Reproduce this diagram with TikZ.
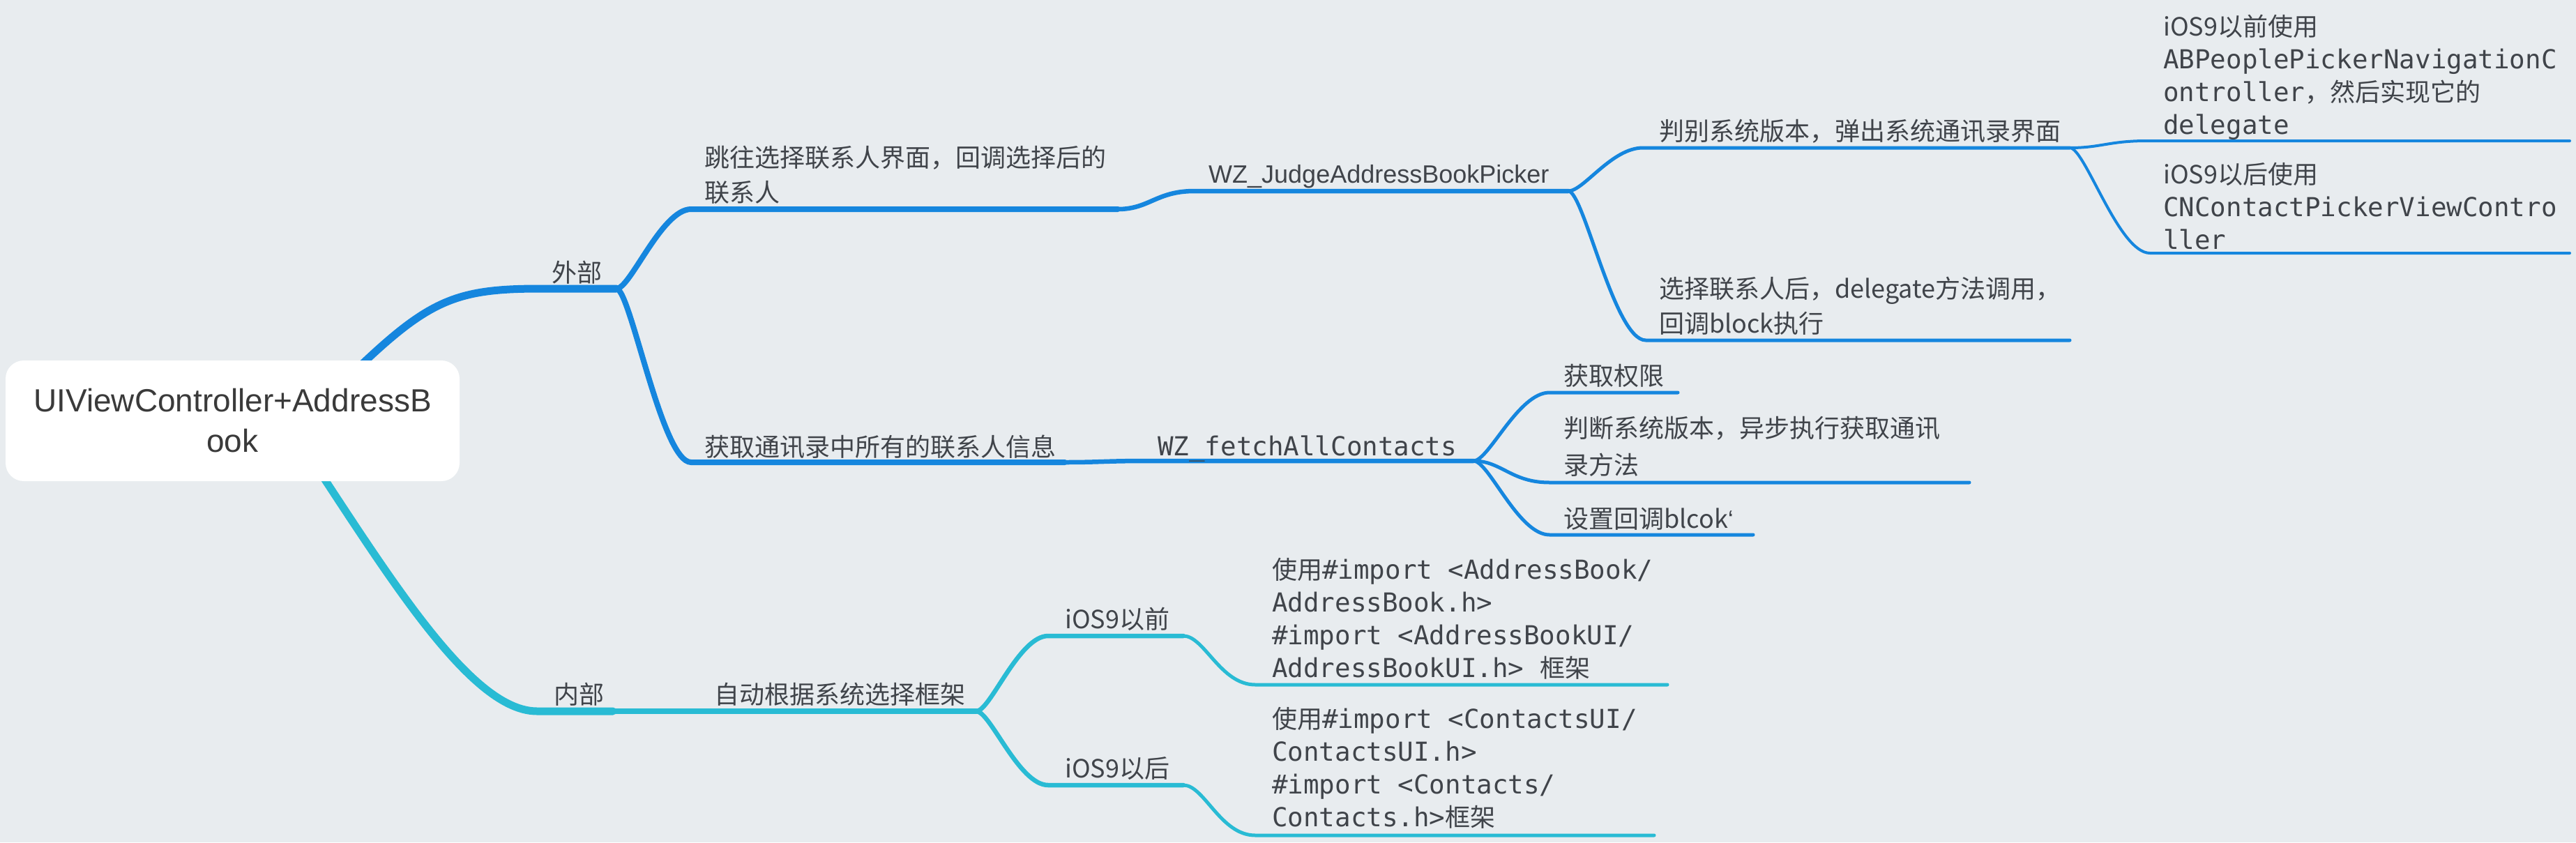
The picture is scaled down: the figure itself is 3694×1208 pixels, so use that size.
\documentclass[tikz,border=0pt]{standalone}
\usepackage{fontspec}
\setmainfont{Noto Sans CJK SC}
\newfontfamily\cjkf{Noto Sans CJK SC}
\newfontfamily\monof{DejaVu Sans Mono}
\newfontfamily\lsans{Liberation Sans}
\newcommand\mt[1]{{\monof\fontsize{37.5}{47}\selectfont #1}}
\definecolor{bgc}{RGB}{232,236,239}
\definecolor{blc}{RGB}{21,134,222}
\definecolor{tlc}{RGB}{41,187,212}
\definecolor{txc}{RGB}{64,68,74}
\definecolor{rtx}{RGB}{58,58,58}
\tikzset{
  lab/.style={anchor=base west, inner sep=0pt, align=left, text=txc,
    font=\cjkf\fontsize{36}{50}\selectfont},
  blk/.style={lab, font=\cjkf\fontsize{36}{47}\selectfont},
  w1/.style={line width=11pt, line cap=round},
  w2/.style={line width=8pt, line cap=round},
  w3/.style={line width=6.5pt, line cap=round},
  w4/.style={line width=5pt, line cap=round},
  w5/.style={line width=4pt, line cap=round},
  rootbox/.style={rectangle, fill=white, rounded corners=26pt,
    minimum width=651pt, minimum height=173pt, inner sep=0pt, align=center,
    text=rtx, font=\lsans\fontsize{46}{58}\selectfont}
}
\begin{document}
\begin{tikzpicture}[x=1pt,y=-1pt]
\useasboundingbox (0,0) rectangle (3694,1208);
\fill[bgc] (0,0) rectangle (3694,1208);
% ---------- coordinates ----------
\coordinate (rb) at (400,640);
\coordinate (rt) at (380,560);
\coordinate (ext-s) at (775,414);
\coordinate (ext-e) at (884,414);
\coordinate (jw-s) at (991,300);
\coordinate (jw-e) at (1603,300);
\coordinate (hq-s) at (991,663);
\coordinate (hq-e) at (1527,663);
\coordinate (wj-s) at (1713,274);
\coordinate (wj-e) at (2249,274);
\coordinate (wf-s) at (1646,661);
\coordinate (wf-e) at (2113,661);
\coordinate (pb-s) at (2356,212);
\coordinate (pb-e) at (2968,212);
\coordinate (xz-s) at (2360,488);
\coordinate (xz-e) at (2968,488);
\coordinate (q1-s) at (3079,202);
\coordinate (q1-e) at (3685,202);
\coordinate (h1-s) at (3083,363);
\coordinate (h1-e) at (3685,363);
\coordinate (qx-s) at (2222,563);
\coordinate (qx-e) at (2406,563);
\coordinate (pd-s) at (2222,692);
\coordinate (pd-e) at (2824,692);
\coordinate (sz-s) at (2222,767);
\coordinate (sz-e) at (2514,767);
\coordinate (int-s) at (770,1020);
\coordinate (int-e) at (879,1020);
\coordinate (zd-e) at (1400,1020);
\coordinate (i9q-s) at (1503,912);
\coordinate (i9q-e) at (1697,912);
\coordinate (i9h-s) at (1503,1126);
\coordinate (i9h-e) at (1697,1126);
\coordinate (im1-s) at (1800,982);
\coordinate (im1-e) at (2391,982);
\coordinate (im2-s) at (1800,1198);
\coordinate (im2-e) at (2372,1198);
% ---------- blue branch ----------
\draw[blc,w1] (rb) .. controls (600,440) and (620,414) .. (ext-s) -- (ext-e);
\draw[blc,w2] (ext-e) .. controls +(20,0) and +(-42,0) .. (jw-s) -- (jw-e);
\draw[blc,w2] (ext-e) .. controls +(20,0) and +(-42,0) .. (hq-s) -- (hq-e);
\draw[blc,w3] (jw-e) .. controls +(45,0) and +(-55,0) .. (wj-s) -- (wj-e);
\draw[blc,w3] (hq-e) .. controls +(50,0) and +(-60,0) .. (wf-s) -- (wf-e);
\draw[blc,w4] (wj-e) .. controls +(22,0) and +(-45,0) .. (pb-s) -- (pb-e);
\draw[blc,w4] (wj-e) .. controls +(22,0) and +(-45,0) .. (xz-s) -- (xz-e);
\draw[blc,w5] (pb-e) .. controls +(45,0) and +(-55,0) .. (q1-s) -- (q1-e);
\draw[blc,w5] (pb-e) .. controls +(22,0) and +(-45,0) .. (h1-s) -- (h1-e);
\draw[blc,w4] (wf-e) .. controls +(22,0) and +(-45,0) .. (qx-s) -- (qx-e);
\draw[blc,w4] (wf-e) .. controls +(40,0) and +(-55,0) .. (pd-s) -- (pd-e);
\draw[blc,w4] (wf-e) .. controls +(22,0) and +(-45,0) .. (sz-s) -- (sz-e);
% ---------- teal branch ----------
\draw[tlc,w1] (rt) .. controls (520,760) and (660,1020) .. (int-s) -- (int-e);
\draw[tlc,w2] (int-e) -- (zd-e);
\draw[tlc,w3] (zd-e) .. controls +(20,0) and +(-42,0) .. (i9q-s) -- (i9q-e);
\draw[tlc,w3] (zd-e) .. controls +(20,0) and +(-42,0) .. (i9h-s) -- (i9h-e);
\draw[tlc,w4] (i9q-e) .. controls +(30,0) and +(-50,0) .. (im1-s) -- (im1-e);
\draw[tlc,w4] (i9h-e) .. controls +(30,0) and +(-50,0) .. (im2-s) -- (im2-e);
% ---------- labels (base = baseline of last line) ----------
\node[lab] (t-ext) at (791,404) {外部};
\node[lab] (t-jw) at (1010,289) {跳往选择联系人界面，回调选择后的\\联系人};
\node[lab] (t-hq) at (1010,654) {获取通讯录中所有的联系人信息};
\node[lab,font=\lsans\fontsize{36}{44}\selectfont] (t-wj) at (1733,262) {WZ\_JudgeAddressBookPicker};
\node[lab,font=\monof\fontsize{37.5}{47}\selectfont] (t-wf) at (1660,653) {WZ\_fetchAllContacts};
\node[lab] (t-pb) at (2379,201) {判别系统版本，弹出系统通讯录界面};
\node[lab] (t-xz) at (2379,477) {选择联系人后，delegate方法调用，\\回调block执行};
\node[blk] (t-q1) at (3102,192) {iOS9以前使用\\\mt{ABPeoplePickerNavigationC}\\\mt{ontroller}，然后实现它的\\\mt{delegate}};
\node[blk] (t-h1) at (3102,357) {iOS9以后使用\\\mt{CNContactPickerViewContro}\\\mt{ller}};
\node[lab] (t-qx) at (2242,552) {获取权限};
\node[lab,font=\cjkf\fontsize{36}{53}\selectfont] (t-pd) at (2242,680) {判断系统版本，异步执行获取通讯\\录方法};
\node[lab] (t-sz) at (2242,757) {设置回调blcok{\lsans ‘}};
\node[lab] (t-int) at (794,1009) {内部};
\node[lab] (t-zd) at (1024,1009) {自动根据系统选择框架};
\node[lab] (t-i9q) at (1527,901) {iOS9以前};
\node[lab] (t-i9h) at (1527,1115) {iOS9以后};
\node[blk] (t-im1) at (1824,971) {使用\mt{\#import <AddressBook/}\\\mt{AddressBook.h>}\\\mt{\#import <AddressBookUI/}\\\mt{AddressBookUI.h> }框架};
\node[blk] (t-im2) at (1824,1185) {使用\mt{\#import <ContactsUI/}\\\mt{ContactsUI.h>}\\\mt{\#import <Contacts/}\\\mt{Contacts.h>}框架};
% ---------- root ----------
\node[rootbox] (root) at (333.5,603.5) {UIViewController+AddressB\\ook};
\end{tikzpicture}
\end{document}
